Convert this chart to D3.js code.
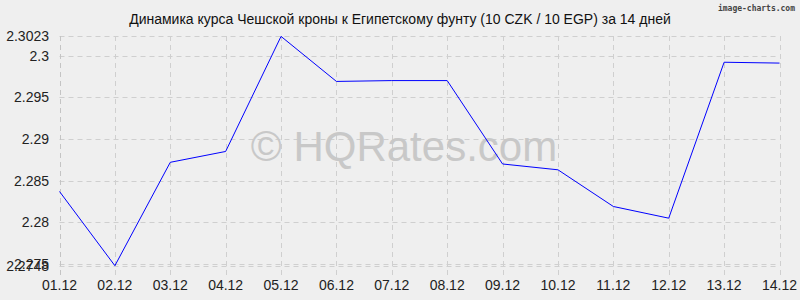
<!DOCTYPE html>
<html>
<head>
<meta charset="utf-8">
<script src="https://cdn.jsdelivr.net/npm/d3@7"></script>
<style>
  body { margin: 0; background: #efefef; }
  svg { display: block; }
</style>
</head>
<body>
<div id="chart"></div>
<script>
// Data
var dates = ["01.12", "02.12", "03.12", "04.12", "05.12", "06.12", "07.12",
             "08.12", "09.12", "10.12", "11.12", "12.12", "13.12", "14.12"];
var rates = [2.2837, 2.2748, 2.2872, 2.2885, 2.3023, 2.2969, 2.2970,
             2.2970, 2.2870, 2.2863, 2.2819, 2.2805, 2.2992, 2.2991];
var yTicks = [2.2748, 2.275, 2.28, 2.285, 2.29, 2.295, 2.3, 2.3023];
var title = "Динамика курса Чешской кроны к Египетскому фунту (10 CZK / 10 EGP) за 14 дней";

var w = 800;
var h = 300;

var svg = d3.select("#chart")
    .append("svg")
    .attr("width", w)
    .attr("height", h)
    .style("font-family", "Liberation Sans, Arial, sans-serif");

svg.append("rect")
    .attr("width", w)
    .attr("height", h)
    .attr("fill", "#efefef");

var x = d3.scalePoint()
    .domain(dates)
    .range([59.5, 779.5]);

var y = d3.scaleLinear()
    .domain([2.2748, 2.3023])
    .range([265.7, 36.4]);

//Grid lines
svg.append("g")
    .selectAll("line")
    .data(yTicks)
    .enter()
    .append("line")
    .attr("x1", 59.5)
    .attr("x2", 779.5)
    .attr("y1", function(d) { return Math.round(y(d)) + 0.5; })
    .attr("y2", function(d) { return Math.round(y(d)) + 0.5; })
    .attr("stroke", "#cfcfcf")
    .attr("stroke-dasharray", "5,4");

svg.append("g")
    .selectAll("line")
    .data(dates)
    .enter()
    .append("line")
    .attr("x1", function(d) { return Math.round(x(d)) + 0.5; })
    .attr("x2", function(d) { return Math.round(x(d)) + 0.5; })
    .attr("y1", 36)
    .attr("y2", 275)
    .attr("stroke", function(d, i) { return i == 0 ? "#c4c4c4" : "#cfcfcf"; })
    .attr("stroke-dasharray", "5,4");

//Watermark
svg.append("text")
    .attr("x", 404)
    .attr("y", 161)
    .attr("text-anchor", "middle")
    .attr("font-size", 42)
    .attr("fill", "#c8c8c8")
    .text("© HQRates.com");

//Axis labels
svg.append("g")
    .selectAll("text")
    .data(yTicks)
    .enter()
    .append("text")
    .attr("x", 49)
    .attr("y", function(d) { return y(d) + 5; })
    .attr("text-anchor", "end")
    .attr("font-size", 14)
    .attr("fill", "#222")
    .text(function(d) { return d3.format("")(d); });

svg.append("g")
    .selectAll("text")
    .data(dates)
    .enter()
    .append("text")
    .attr("x", function(d) { return x(d); })
    .attr("y", 290)
    .attr("text-anchor", "middle")
    .attr("font-size", 14)
    .attr("fill", "#222")
    .text(function(d) { return d; });

//Rate line
var line = d3.line()
    .x(function(d, i) { return x(dates[i]); })
    .y(function(d) { return y(d); });

svg.append("path")
    .datum(rates)
    .attr("d", line)
    .attr("fill", "none")
    .attr("stroke", "#0000ff")
    .attr("stroke-width", 1);

//Title and credit
svg.append("text")
    .attr("x", 400)
    .attr("y", 24)
    .attr("text-anchor", "middle")
    .attr("font-size", 14)
    .attr("fill", "#111")
    .text(title);

svg.append("text")
    .attr("x", 795)
    .attr("y", 11)
    .attr("text-anchor", "end")
    .attr("font-family", "DejaVu Sans Mono, monospace")
    .attr("font-size", 8)
    .attr("font-weight", "bold")
    .attr("fill", "#444")
    .text("image-charts.com");
</script>
</body>
</html>
